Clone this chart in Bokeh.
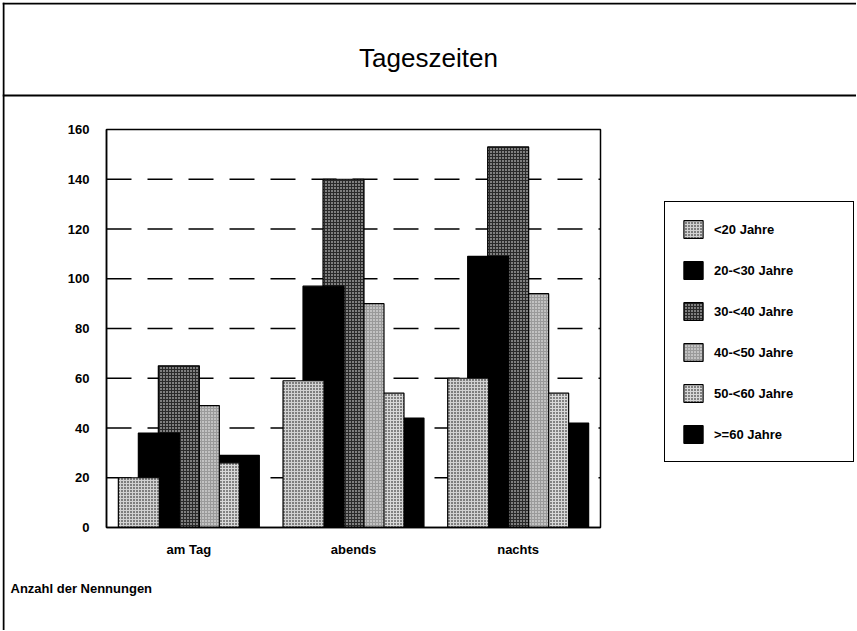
from bokeh.plotting import figure
from bokeh.models import (Range1d, Label, Legend, LegendItem, LinearAxis, Span,
                          FixedTicker, ColumnDataSource)
from bokeh.transform import dodge
from bokeh.embed import file_html
from bokeh.resources import INLINE

# ---------------- data ----------------
categories = ["am Tag", "abends", "nachts"]
series_labels = ["<20 Jahre", "20-<30 Jahre", "30-<40 Jahre",
                 "40-<50 Jahre", "50-<60 Jahre", ">=60 Jahre"]
unter20 = [20, 59, 60]
j20_30 = [38, 97, 109]
j30_40 = [65, 140, 153]
j40_50 = [49, 90, 94]
j50_60 = [26, 54, 54]
ab60 = [29, 44, 42]
y_ticks = [0, 20, 40, 60, 80, 100, 120, 140, 160]
title_text = "Tageszeiten"
footer_text = "Anzahl der Nennungen"

FONT = "Liberation Sans"
W, H = 856, 630

# page layout of the plotting area (pixels)
AX_LEFT, AX_RIGHT, AX_TOP, AX_BOTTOM = 106, 600, 129, 527
n_cat = len(categories)
y_max = y_ticks[-1]
PXX = (AX_RIGHT - AX_LEFT) / n_cat     # pixels per category
PXY = (AX_BOTTOM - AX_TOP) / y_max     # pixels per count


def px2x(px):
    return (px - AX_LEFT) / PXX


def py2y(py):
    return (AX_BOTTOM - py) / PXY


FRAME_L, FRAME_T = 2, 2
p = figure(width=W, height=H, output_backend="svg", toolbar_location=None,
           x_range=Range1d(px2x(FRAME_L), px2x(W)),
           y_range=Range1d(py2y(H), py2y(FRAME_T)),
           x_axis_location=None, y_axis_location=None,
           min_border_left=FRAME_L, min_border_top=FRAME_T,
           min_border_right=0, min_border_bottom=0)
p.background_fill_color = "white"
p.border_fill_color = "white"
p.outline_line_color = None
for g in p.grid:
    g.visible = False

cat_x = [i + 0.5 for i in range(n_cat)]
source = ColumnDataSource(dict(x=cat_x, s0=unter20, s1=j20_30, s2=j30_40,
                               s3=j40_50, s4=j50_60, s5=ab60))
keys = ["s0", "s1", "s2", "s3", "s4", "s5"]

# dashed grid lines (behind the bars)
grid_vals = y_ticks[1:-1]
p.segment(x0=[0] * len(grid_vals), x1=[n_cat] * len(grid_vals), y0=grid_vals, y1=grid_vals,
          line_color="black", line_width=1.5, line_dash="25 16")

styles = [
    dict(fill_color="#d2d2d2", hatch_pattern="dot", hatch_color="black", hatch_scale=3, hatch_weight=1),
    dict(fill_color="black"),
    dict(fill_color="#2a2a2a", hatch_pattern="dot", hatch_color="white", hatch_scale=3, hatch_weight=1),
    dict(fill_color="#9a9a9a", hatch_pattern="dot", hatch_color="white", hatch_scale=3, hatch_weight=1),
    dict(fill_color="#d8d8d8", hatch_pattern="dot", hatch_color="black", hatch_scale=3, hatch_weight=1),
    dict(fill_color="black"),
]
step = 0.1214
bar_w = 0.249
renderers = {}
for i in reversed(range(6)):
    r = p.vbar(x=dodge("x", (i - 2.5) * step), top=keys[i],
               width=bar_w, source=source, line_color="black", line_width=1.2,
               **styles[i])
    renderers[i] = r

# box around the plotting area
p.quad(left=[0], right=[n_cat], bottom=[0], top=[y_max], fill_color=None,
       line_color="black", line_width=1.5)

# axes
yaxis = LinearAxis(fixed_location=0, bounds=(0, y_max), ticker=FixedTicker(ticks=y_ticks))
xaxis = LinearAxis(fixed_location=0, bounds=(0, n_cat), ticker=FixedTicker(ticks=cat_x),
                   major_label_overrides={cx: c for cx, c in zip(cat_x, categories)})
for ax in (xaxis, yaxis):
    ax.major_tick_line_color = None
    ax.minor_tick_line_color = None
    ax.axis_line_color = "black"
    ax.axis_line_width = 1.5
    ax.major_label_text_font = FONT
    ax.major_label_text_font_style = "bold"
    ax.major_label_text_font_size = "13px"
    ax.major_label_text_color = "black"
yaxis.major_label_standoff = 11
xaxis.major_label_standoff = 8
p.add_layout(yaxis, "left")
p.add_layout(xaxis, "below")

# legend
legend = Legend(items=[LegendItem(label=series_labels[i], renderers=[renderers[i]]) for i in range(6)],
                location=(664 - FRAME_L, H - 462), orientation="vertical",
                glyph_width=24, glyph_height=22, spacing=19, padding=16,
                label_standoff=9, label_width=123, margin=0,
                border_line_color="black", border_line_width=1.5, border_line_alpha=1,
                label_text_font=FONT, label_text_font_style="bold",
                label_text_color="black",
                label_text_font_size="13px", background_fill_alpha=1)
p.add_layout(legend, "center")

# page decoration: top line, title underline, left line
p.add_layout(Span(location=py2y(3), dimension="width", line_color="black", line_width=2))
p.add_layout(Span(location=py2y(95), dimension="width", line_color="black", line_width=2))
p.add_layout(Span(location=px2x(3), dimension="height", line_color="black", line_width=2))

p.add_layout(Label(x=px2x(428), y=py2y(57), text=title_text, text_font=FONT,
                   text_font_size="26px", text_align="center",
                   text_baseline="middle", text_color="black"))
p.add_layout(Label(x=px2x(10), y=py2y(588), text=footer_text, text_font=FONT,
                   text_font_size="13px", text_font_style="bold",
                   text_align="left", text_baseline="middle", text_color="black"))

open("out.html", "w").write(file_html(p, INLINE))
